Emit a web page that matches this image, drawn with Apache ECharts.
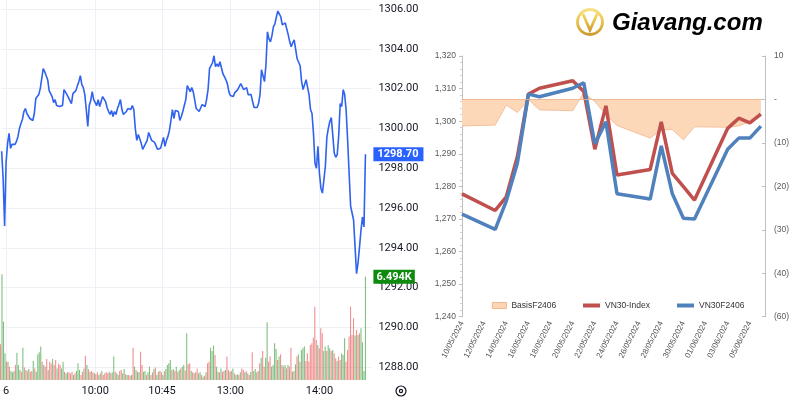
<!DOCTYPE html>
<html><head><meta charset="utf-8">
<script src="https://cdn.jsdelivr.net/npm/echarts@6/dist/echarts.min.js"></script>
<style>html,body{margin:0;padding:0;background:#fff}#c{width:800px;height:400px}</style>
</head><body><div id="c"></div>
<script>
// ================= LEFT: intraday VN30F price & volume =================
const sessions = [['08:57','11:30'],['13:00','14:35']];
const timeTickTimes = ['09:00','10:00','10:45','13:00','14:00'];
const timeTickLabels = ['6','10:00','10:45','13:00','14:00'];
const priceTicks = [1288,1290,1292,1294,1296,1298,1300,1302,1304,1306];
const price = [
1298.85,1297.5,1295.1,1298.3,1299.25,1299.75,1299.0,1299.2,1299.15,1299.2,
1299.35,1299.6,1300.0,1300.25,1300.45,1300.85,1301.0,1300.75,1300.8,1300.5,
1300.4,1300.4,1300.75,1301.5,1301.5,1301.7,1302.0,1302.5,1303.0,1302.85,
1302.9,1302.45,1301.9,1302.0,1301.6,1301.3,1301.45,1301.15,1301.25,1301.1,
1301.1,1301.15,1301.95,1301.85,1301.7,1301.55,1301.45,1301.25,1301.75,1301.85,
1301.9,1302.15,1302.35,1302.65,1302.2,1302.05,1301.7,1300.95,1300.1,1301.15,
1301.4,1301.85,1301.45,1301.35,1301.15,1301.45,1301.1,1301.15,1301.6,1301.6,
1301.35,1301.05,1300.85,1300.7,1300.9,1300.6,1300.85,1300.7,1301.0,1301.2,
1301.45,1300.95,1300.7,1300.7,1300.85,1301.0,1301.1,1300.95,1301.15,1300.95,
1300.0,1299.4,1299.7,1299.7,1299.25,1298.95,1299.0,1299.25,1299.4,1299.8,
1299.75,1299.4,1299.35,1299.3,1299.2,1298.95,1299.0,1299.0,1299.1,1299.55,
1299.1,1299.4,1299.6,1299.9,1300.4,1300.95,1300.5,1300.9,1300.8,1300.85,
1300.4,1300.6,1300.85,1301.15,1301.45,1302.15,1302.0,1301.85,1302.05,1301.85,
1301.45,1301.0,1300.9,1300.85,1300.95,1301.2,1301.25,1301.1,1301.45,1301.95,
1303.0,1303.05,1303.3,1303.65,1303.1,1303.25,1303.1,1303.35,1303.3,1302.75,
1302.6,1302.45,1302.25,1301.85,1301.65,1301.55,1301.6,1301.8,1301.9,1301.95,
1302.1,1302.25,1302.2,1301.95,1301.9,1302.05,1301.7,1301.75,1301.7,1301.35,
1301.05,1301.1,1301.05,1301.25,1301.7,1302.95,1302.85,1302.35,1303.2,1304.85,
1304.5,1304.35,1304.65,1305.1,1305.25,1305.6,1305.9,1306.0,1305.6,1305.2,
1305.2,1305.3,1305.2,1304.7,1304.35,1304.1,1304.3,1304.45,1304.5,1303.5,
1303.45,1303.15,1302.35,1301.95,1302.05,1302.45,1302.4,1301.7,1300.95,1300.75,
1299.75,1298.25,1298.0,1299.1,1297.75,1297.0,1296.75,1297.4,1298.1,1299.55,
1300.0,1300.35,1300.55,1299.65,1298.75,1298.55,1298.7,1299.65,1301.25,1301.1,
1301.95,1301.7,1300.9,1299.4,1297.75,1296.1,1295.75,1295.4,1294.05,1292.7,
1293.25,1294.05,1294.9,1295.55,1295.05,1298.7];
// volume in thousands of contracts
const volume = [
2.24,6.65,3.67,1.68,1.15,1.15,0.84,0.57,0.48,0.57, 0.94,1.72,0.94,0.63,0.52,2.03,0.78,0.63,0.57,0.69,
0.52,0.57,1.20,0.73,0.52,1.61,1.74,2.10,1.15,0.94, 0.84,1.32,0.63,1.15,1.03,1.32,0.94,1.26,0.73,1.03,
0.94,0.73,1.15,0.52,0.42,0.48,0.48,0.42,0.52,0.31, 0.42,0.57,1.05,0.63,0.31,0.52,0.73,1.53,0.94,0.69,
0.52,0.57,0.48,0.42,0.36,0.48,0.31,0.42,0.57,0.31, 0.42,0.48,0.42,0.52,0.42,0.48,1.47,0.52,0.42,0.31,
0.57,0.63,0.42,0.69,0.36,0.31,0.31,0.27,0.31,2.03, 0.84,0.63,0.52,0.48,1.78,0.94,0.52,0.57,0.31,0.48,
0.84,0.31,0.48,0.69,0.78,0.31,0.52,0.57,0.48,0.31, 0.57,0.69,0.94,1.05,1.26,0.63,0.69,0.57,0.84,0.52,
0.63,0.73,0.84,0.94,0.60,
2.94,0.99,1.05,0.57,0.48,0.42,0.48,0.73,0.42,0.48, 0.31,0.21,0.27,0.48,1.05,1.15,2.03,1.82,2.16,1.57,
0.84,0.52,0.48,0.73,0.52,0.57,0.63,1.47,0.63,0.52, 0.57,0.73,0.42,0.31,0.36,0.31,0.48,0.73,0.63,0.48,
0.57,0.42,0.31,0.52,1.74,0.57,0.69,0.48,0.57,1.05, 1.40,1.82,0.84,1.40,3.63,1.15,1.47,0.84,0.94,2.31,
1.95,1.26,1.47,1.61,0.94,0.84,0.94,0.73,0.94,0.84, 2.03,0.52,0.57,0.99,1.47,1.61,1.15,1.89,1.99,2.10,
1.20,1.68,1.15,2.20,2.31,2.66,4.61,2.52,2.20,1.99, 3.25,2.94,1.82,2.10,1.82,2.20,1.99,1.82,1.89,1.68,
1.36,1.20,1.47,1.26,1.68,1.57,2.62,1.15,1.89,2.73, 4.61,2.83,3.88,2.79,3.15,2.83,2.94,3.25,2.37,0.57,
6.494];
// bar direction: g = up, r = down
const volumeDir =
 'rgggrgrggg'+'rgggrgrgrg'+'rrgrggggrg'+'rrgrrgrrgr'+'rggrggrrrg'+'rgggrrgrgr'+'grrgrrgrgr'+
 'rrrgrggrgg'+'rrggrgrrgr'+'grggrrggrg'+'grrgrgrgrg'+'rggggrgrgr'+'grggr'+
 'grrgrgrrgg'+'rgrgrrgggr'+'ggrgrrgrrg'+'rgrggrgrrg'+'rgrgrggrgr'+'grrggrrggg'+'grgrgrgrgr'+
 'rgrgrgrggg'+'rrrrrrrrgr'+'rrggrggrgr'+'rgrrgggrrr'+'rrrgrgrggg'+'g';

// ================= RIGHT: VN30 vs VN30F2406 daily =================
const tradeDates = ['10/05/2024','13/05/2024','14/05/2024','15/05/2024','16/05/2024','17/05/2024',
 '20/05/2024','21/05/2024','22/05/2024','23/05/2024','24/05/2024','27/05/2024','28/05/2024',
 '29/05/2024','30/05/2024','31/05/2024','03/06/2024','04/06/2024','05/06/2024','06/06/2024'];
const vn30Index = [1277.7,1272.6,1276.8,1289.1,1308.3,1310.1,1312.4,1309.1,1291.4,1304.7,
 1283.5,1285.2,1299.8,1284.0,1279.9,1275.8,1297.8,1300.9,1299.5,1302.2];
const vn30F2406 = [1271.5,1266.8,1275.5,1287.1,1308.3,1307.5,1310.1,1311.8,1293.0,1299.8,
 1277.7,1276.1,1292.4,1277.7,1270.2,1270.0,1291.4,1294.8,1294.8,1298.5];
const basisF2406 = [-6.1,-5.9,-1.3,-3.0,0.0,-2.4,-2.6,1.6,-0.5,-3.5,
 -6.0,-8.9,-7.0,-6.9,-9.3,-6.3,-6.4,-6.1,-5.1,-2.8];
const dateTickLabels = ['10/05/2024','12/05/2024','14/05/2024','16/05/2024','18/05/2024','20/05/2024',
 '22/05/2024','24/05/2024','26/05/2024','28/05/2024','30/05/2024','01/06/2024','03/06/2024','05/06/2024'];
const rightTickLabels = ['(60)','(40)','(30)','(20)','(10)','-','10'];

// ---- helpers ----
function toMin(t){const [h,m]=t.split(':').map(Number);return h*60+m;}
function fmt(m){const h=Math.floor(m/60),mm=m%60;return String(h).padStart(2,'0')+':'+String(mm).padStart(2,'0');}
const categories=[];
sessions.forEach(([a,b])=>{for(let m=toMin(a);m<=toMin(b);m++)categories.push(fmt(m));});
const isTick=(i,v)=>timeTickTimes.indexOf(v)>=0;
function dayOffset(s){const [d,m,y]=s.split('/').map(Number);return (Date.UTC(y,m-1,d)-Date.UTC(2024,4,10))/86400000;}
const pairs=arr=>arr.map((v,i)=>[dayOffset(tradeDates[i]),v]);

const GREEN='rgba(76,165,76,0.7)', RED='rgba(236,96,96,0.7)';
const volData=volume.map((v,i)=>({value:v,itemStyle:{color:volumeDir[i]==='g'?GREEN:RED}}));
const lastPrice=price[price.length-1], lastVol=volume[volume.length-1];

// pixel geometry of the left panel
const L_LEFT=0.53, L_RIGHT=800-371.4;
const pxPerUnit=19.906, yTop1306=9, gridH=380;
const pMax=1306+yTop1306/pxPerUnit, pMin=pMax-gridH/pxPerUnit;

const FONT_TV='Roboto', FONT_XL='"Liberation Sans", Arial';
const gold=new echarts.graphic.LinearGradient(0,0,0,1,[{offset:0,color:'#f9e68a'},{offset:0.5,color:'#e8c24a'},{offset:1,color:'#c8952a'}]);
const hidden={color:'rgba(0,0,0,0)',width:0};
const legendText={fontSize:8.5,color:'#333',fontFamily:FONT_XL};

const chart=echarts.init(document.getElementById('c'),null,{renderer:'canvas'});
chart.setOption({
  animation:false,
  backgroundColor:'#fff',
  grid:[
    {left:L_LEFT,right:L_RIGHT,top:0,height:gridH},
    {left:L_LEFT,right:L_RIGHT,top:200,height:180},
    {left:462,right:35,top:56,bottom:83.3}
  ],
  xAxis:[
    {type:'category',gridIndex:0,data:categories,boundaryGap:false,
     axisLine:{show:false},axisTick:{show:false},
     axisLabel:{interval:isTick,formatter:v=>timeTickLabels[timeTickTimes.indexOf(v)],color:'#131722',fontSize:11,fontFamily:FONT_TV,margin:6},
     splitLine:{show:true,interval:isTick,lineStyle:{color:'#eef0f5',width:1}}},
    {type:'category',gridIndex:1,data:categories,boundaryGap:false,show:false},
    {type:'value',gridIndex:2,min:0,max:27.37,interval:2,
     axisLine:{show:true,lineStyle:{color:'#bfbfbf'}},axisTick:{show:false},splitLine:{show:false},
     axisLabel:{showMaxLabel:false,rotate:63,margin:5,fontSize:8,color:'#595959',fontFamily:FONT_XL,
       formatter:v=>dateTickLabels[Math.round(v/2)]||''}}
  ],
  yAxis:[
    {type:'value',gridIndex:0,position:'right',min:pMin,max:pMax,
     axisLine:{show:false},
     axisTick:{show:false,customValues:priceTicks},
     axisLabel:{customValues:priceTicks,formatter:v=>v.toFixed(2),color:'#131722',fontSize:11,fontFamily:FONT_TV,margin:7},
     splitLine:{show:true,lineStyle:{color:'#eef0f5',width:1}}},
    {type:'value',gridIndex:1,min:0,max:6.494*180/103.3,show:false,splitLine:{show:false}},
    {type:'value',gridIndex:2,min:1240,max:1320,interval:10,
     axisLine:{show:true,lineStyle:{color:'#bfbfbf'}},
     axisTick:{show:true,length:3,lineStyle:{color:'#bfbfbf'}},
     minorTick:{show:true,splitNumber:5,length:2,lineStyle:{color:'#d0d0d0'}},
     splitLine:{show:false},
     axisLabel:{formatter:v=>v.toLocaleString('en-US'),fontSize:8.5,color:'#595959',fontFamily:FONT_XL,margin:6}},
    {type:'value',gridIndex:2,position:'right',min:-50,max:10,interval:10,
     axisLine:{show:true,lineStyle:{color:'#bfbfbf'}},
     axisTick:{show:true,inside:true,length:3,lineStyle:{color:'#bfbfbf'}},
     splitLine:{show:false},
     axisLabel:{formatter:v=>rightTickLabels[Math.round((v+50)/10)],fontSize:8.5,color:'#595959',fontFamily:FONT_XL,margin:9}}
  ],
  legend:[
    {left:492,top:301,padding:0,itemWidth:14,itemHeight:6,textStyle:legendText,
     data:[{name:'BasisF2406',icon:'rect',itemStyle:{color:'#fcd5b4',borderColor:'#f0a878',borderWidth:0.8}}]},
    {left:583,top:301,padding:0,itemWidth:17,itemHeight:4,textStyle:legendText,
     data:[{name:'VN30-Index',icon:'rect'}]},
    {left:677,top:301,padding:0,itemWidth:17,itemHeight:4,textStyle:legendText,
     data:[{name:'VN30F2406',icon:'rect'}]}
  ],
  series:[
    {type:'bar',name:'Volume',xAxisIndex:1,yAxisIndex:1,data:volData,barWidth:1.1,silent:true,clip:false,
     markLine:{silent:true,symbol:'none',lineStyle:hidden,
       label:{show:true,position:'end',distance:2,formatter:()=>lastVol.toFixed(3)+'K',color:'#fff',backgroundColor:'#0e8a0e',
              padding:[2,3,1,3],fontSize:11,fontFamily:FONT_TV,fontWeight:'bold',opacity:1},
       data:[{yAxis:lastVol}]}},
    {type:'line',name:'VN30F1M',xAxisIndex:0,yAxisIndex:0,data:price,symbol:'none',silent:true,clip:false,
     lineStyle:{color:'#2f62ee',width:1.6},
     markLine:{silent:true,symbol:'none',lineStyle:hidden,
       label:{show:true,position:'end',distance:2,formatter:()=>lastPrice.toFixed(2),color:'#fff',backgroundColor:'#2962ff',
              padding:[2,5,1,4],fontSize:11,fontFamily:FONT_TV,fontWeight:'bold',opacity:1},
       data:[{yAxis:lastPrice}]}},
    {type:'line',name:'BasisF2406',xAxisIndex:2,yAxisIndex:3,data:pairs(basisF2406),symbol:'none',silent:true,
     lineStyle:{color:'#f3b58c',width:0.8},itemStyle:{color:'#fcd5b4'},
     areaStyle:{color:'#fcd7b8',opacity:1,origin:0},
     markLine:{silent:true,symbol:'none',label:{show:false},lineStyle:{color:'#f3b58c',width:0.8,type:'solid'},
       data:[[{coord:[0,0]},{coord:[27,0]}]]}},
    {type:'line',name:'VN30-Index',xAxisIndex:2,yAxisIndex:2,data:pairs(vn30Index),symbol:'none',silent:true,
     itemStyle:{color:'#c0504d'},lineStyle:{color:'#c0504d',width:3.5}},
    {type:'line',name:'VN30F2406',xAxisIndex:2,yAxisIndex:2,data:pairs(vn30F2406),symbol:'none',silent:true,
     itemStyle:{color:'#4f81bd'},lineStyle:{color:'#4f81bd',width:3.5}}
  ],
  graphic:[
    {type:'circle',shape:{cx:590,cy:22,r:12.5},style:{fill:'none',stroke:gold,lineWidth:2.8}},
    {type:'polyline',shape:{points:[[583,14],[590,30],[598,12]]},style:{fill:'none',stroke:gold,lineWidth:2.8}},
    {type:'text',style:{text:'Giavang.com',x:612,y:23,verticalAlign:'middle',font:'italic bold 24px "Liberation Sans", Arial',fill:gold}},
    {type:'circle',shape:{cx:401,cy:391,r:5},style:{fill:'none',stroke:'#131722',lineWidth:1.2}},
    {type:'circle',shape:{cx:401,cy:391,r:1.6},style:{fill:'none',stroke:'#131722',lineWidth:1.2}}
  ]
});
</script></body></html>
